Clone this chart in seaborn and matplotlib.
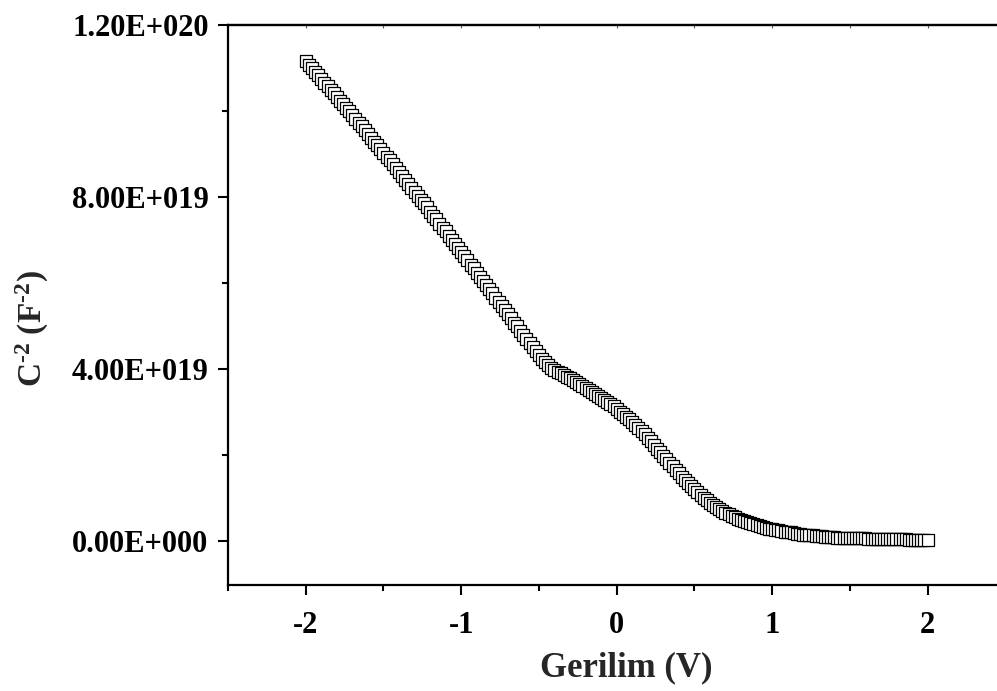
import matplotlib
matplotlib.use("Agg")
import matplotlib.pyplot as plt
import seaborn as sns
import pandas as pd
from matplotlib.ticker import FixedLocator, FixedFormatter, MultipleLocator

# ---------------- data ----------------
voltage = [
    -2.00, -1.98, -1.96, -1.94, -1.92, -1.90, -1.88, -1.86, -1.84, -1.82,
    -1.80, -1.78, -1.76, -1.74, -1.72, -1.70, -1.68, -1.66, -1.64, -1.62,
    -1.60, -1.58, -1.56, -1.54, -1.52, -1.50, -1.48, -1.46, -1.44, -1.42,
    -1.40, -1.38, -1.36, -1.34, -1.32, -1.30, -1.28, -1.26, -1.24, -1.22,
    -1.20, -1.18, -1.16, -1.14, -1.12, -1.10, -1.08, -1.06, -1.04, -1.02,
    -1.00,
    -0.98, -0.96, -0.94, -0.92, -0.90, -0.88, -0.86, -0.84, -0.82, -0.80,
    -0.78, -0.76, -0.74, -0.72, -0.70, -0.68, -0.66, -0.64, -0.62, -0.60,
    -0.58, -0.56, -0.54, -0.52, -0.50,
    -0.48, -0.46, -0.44, -0.42, -0.40, -0.38, -0.36, -0.34, -0.32, -0.30,
    -0.28, -0.26, -0.24, -0.22, -0.20, -0.18, -0.16, -0.14, -0.12, -0.10,
    -0.08, -0.06, -0.04, -0.02, 0.00,
    0.02, 0.04, 0.06, 0.08, 0.10, 0.12, 0.14, 0.16, 0.18, 0.20,
    0.22, 0.24, 0.26, 0.28, 0.30, 0.32, 0.34, 0.36, 0.38, 0.40,
    0.42, 0.44, 0.46, 0.48, 0.50,
    0.52, 0.54, 0.56, 0.58, 0.60, 0.62, 0.64, 0.66, 0.68, 0.70,
    0.72, 0.74, 0.76, 0.78, 0.80, 0.82, 0.84, 0.86, 0.88, 0.90,
    0.92, 0.94, 0.96, 0.98, 1.00,
    1.02, 1.04, 1.06, 1.08, 1.10, 1.12, 1.14, 1.16, 1.18, 1.20,
    1.22, 1.24, 1.26, 1.28, 1.30, 1.32, 1.34, 1.36, 1.38, 1.40,
    1.42, 1.44, 1.46, 1.48, 1.50,
    1.52, 1.54, 1.56, 1.58, 1.60, 1.62, 1.64, 1.66, 1.68, 1.70,
    1.72, 1.74, 1.76, 1.78, 1.80, 1.82, 1.84, 1.86, 1.88, 1.90,
    1.92, 1.94, 1.96, 1.98, 2.00,
]

# C^-2 in units of 1E19 F^-2
c_inv2_e19 = [
    11.16, 11.08, 11.00, 10.91, 10.83, 10.75, 10.66, 10.58, 10.50, 10.41,
    10.33, 10.24, 10.16, 10.07, 9.99, 9.90, 9.81, 9.73, 9.64, 9.55,
    9.47, 9.38, 9.29, 9.20, 9.11, 9.03, 8.94, 8.85, 8.76, 8.67,
    8.58, 8.49, 8.40, 8.31, 8.22, 8.12, 8.03, 7.94, 7.85, 7.76,
    7.66, 7.57, 7.48, 7.38, 7.29, 7.20, 7.10, 7.01, 6.91, 6.82,
    6.72,
    6.62, 6.53, 6.43, 6.34, 6.24, 6.14, 6.05, 5.95, 5.86, 5.76,
    5.66, 5.57, 5.47, 5.37, 5.28, 5.18, 5.08, 4.99, 4.89, 4.80,
    4.70, 4.61, 4.51, 4.42, 4.33,
    4.24, 4.16, 4.09, 4.03, 3.98, 3.94, 3.90, 3.86, 3.82, 3.78,
    3.74, 3.70, 3.65, 3.61, 3.56, 3.52, 3.47, 3.43, 3.38, 3.33,
    3.29, 3.24, 3.19, 3.13, 3.07,
    3.01, 2.95, 2.89, 2.83, 2.76, 2.69, 2.62, 2.55, 2.48, 2.40,
    2.32, 2.23, 2.15, 2.06, 1.98, 1.90, 1.82, 1.74, 1.66, 1.58,
    1.50, 1.43, 1.35, 1.27, 1.20,
    1.13, 1.07, 1.01, 0.95, 0.89, 0.84, 0.79, 0.74, 0.70, 0.66,
    0.62, 0.58, 0.55, 0.52, 0.49, 0.46, 0.44, 0.41, 0.39, 0.37,
    0.35, 0.33, 0.31, 0.29, 0.28,
    0.26, 0.25, 0.24, 0.22, 0.21, 0.20, 0.19, 0.17, 0.16, 0.15,
    0.14, 0.14, 0.13, 0.12, 0.12, 0.11, 0.10, 0.10, 0.09, 0.09,
    0.08, 0.08, 0.08, 0.07, 0.07,
    0.07, 0.06, 0.06, 0.06, 0.06, 0.05, 0.05, 0.05, 0.05, 0.05,
    0.05, 0.04, 0.04, 0.04, 0.04, 0.04, 0.04, 0.04, 0.03, 0.03,
    0.03, 0.03, 0.03, 0.03, 0.03,
]
UNIT = 1e19

x_ticks = [-2, -1, 0, 1, 2]
x_tick_labels = ["-2", "-1", "0", "1", "2"]
y_ticks = [0.0, 4e19, 8e19, 1.2e20]
y_tick_labels = ["0.00E+000", "4.00E+019", "8.00E+019", "1.20E+020"]
y_minor_ticks = [2e19, 6e19, 1e20]

x_label = "Gerilim (V)"
y_label = r"C$^{\text{-2}}$ (F$^{\text{-2}}$)"

# ---------------- style ----------------
sns.set_style("ticks")
plt.rcParams["font.family"] = ["Liberation Serif", "DejaVu Serif"]
plt.rcParams["font.weight"] = "bold"
plt.rcParams["mathtext.fontset"] = "custom"
plt.rcParams["mathtext.rm"] = "Liberation Serif:bold"
plt.rcParams["mathtext.it"] = "Liberation Serif:bold"
plt.rcParams["mathtext.bf"] = "Liberation Serif:bold"
plt.rcParams["axes.unicode_minus"] = False

df = pd.DataFrame({"V": voltage, "C": [v * UNIT for v in c_inv2_e19]})

fig = plt.figure(figsize=(9.97, 6.91), dpi=100)
ax = fig.add_axes([0.2287, 0.1534, 0.7796, 0.8104])

sns.scatterplot(data=df, x="V", y="C", ax=ax, marker="s", s=85,
                facecolor="white", edgecolor="black", linewidth=0.9,
                legend=False, zorder=3)

ax.set_xlim(-2.5, 2.5)
ax.set_ylim(-1.023e19, 1.2e20)

ax.xaxis.set_major_locator(FixedLocator(x_ticks))
ax.xaxis.set_major_formatter(FixedFormatter(x_tick_labels))
ax.xaxis.set_minor_locator(MultipleLocator(0.5))
ax.yaxis.set_major_locator(FixedLocator(y_ticks))
ax.yaxis.set_major_formatter(FixedFormatter(y_tick_labels))
ax.yaxis.set_minor_locator(FixedLocator(y_minor_ticks))

for side in ["left", "bottom", "top", "right"]:
    ax.spines[side].set_visible(True)
    ax.spines[side].set_linewidth(1.6)
    ax.spines[side].set_color("black")

ax.tick_params(axis="both", which="major", direction="out", length=7,
               width=1.5, labelsize=22, colors="black")
ax.tick_params(axis="both", which="minor", direction="out", length=4,
               width=1.5, colors="black")
ax.tick_params(axis="y", which="major", pad=7)
ax.tick_params(axis="x", which="major", pad=12)
for lab in ax.get_xticklabels() + ax.get_yticklabels():
    lab.set_fontweight("bold")

# small inward ticks on the top spine
top = ax.secondary_xaxis("top")
top.xaxis.set_major_locator(MultipleLocator(0.5))
top.tick_params(axis="x", which="major", direction="in", length=2.5,
                width=0.8, labeltop=False, colors="0.35")
top.spines["top"].set_linewidth(1.6)

ax.set_xlabel(x_label, fontsize=25, fontweight="bold")
ax.set_ylabel(y_label, fontsize=24, fontweight="bold")
ax.xaxis.set_label_coords(0.5125, -0.148)
ax.yaxis.set_label_coords(-0.252, 0.457)
ax.yaxis.label.set_va("center")
ax.xaxis.label.set_va("center")
ax.grid(False)

fig.savefig("out.png", dpi=100)
